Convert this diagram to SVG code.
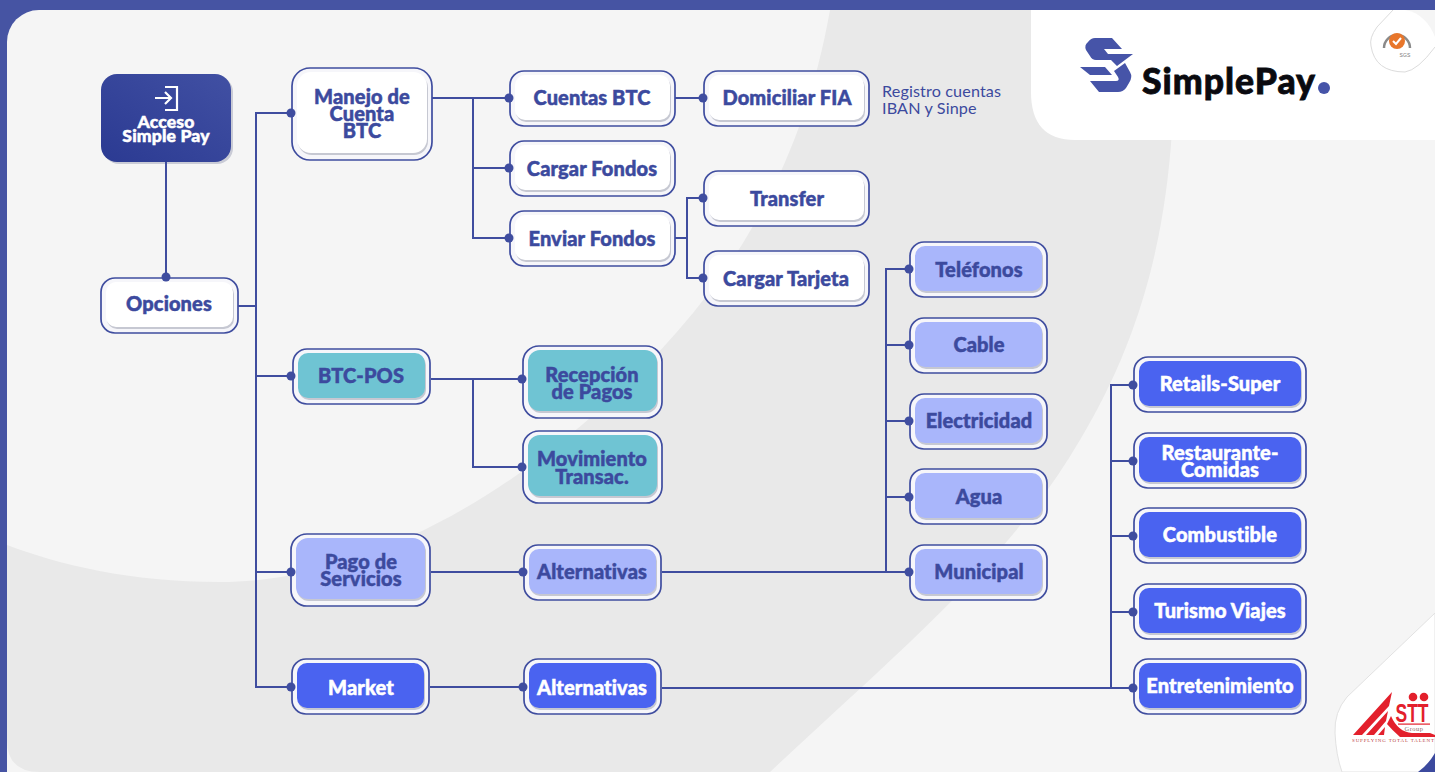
<svg xmlns="http://www.w3.org/2000/svg" width="1435" height="772" viewBox="0 0 1435 772">
<style>
text{font-family:"Lato","Noto Sans",sans-serif;font-weight:900;text-anchor:middle;font-size:20px;letter-spacing:.12px;fill:#3c4a9e;stroke:#3c4a9e;stroke-width:.5px}
text:not(.plain){transform:translateY(.8px)}
.o{fill:#f6f6fa;stroke:#3f4d9f;stroke-width:1.7}
.i{stroke:none}
.w{fill:#fff}.t{fill:#6fc4d3}.l{fill:#a9b6fb}.b{fill:#4a63f0}
.s{fill:#c6c8d2}
text.wt{fill:#fff;stroke:#fff}
.c{fill:none;stroke:#3f4d9f;stroke-width:2}
.d{fill:#3f4d9f}
text.plain{stroke:none}
</style>
<defs>
<linearGradient id="ga" x1="0" y1="1" x2="1" y2="0"><stop offset="0" stop-color="#2b3a92"/><stop offset="1" stop-color="#4150a3"/></linearGradient>
</defs>
<rect width="1435" height="772" fill="#4654a3"/>
<rect x="7" y="10" width="1470" height="800" rx="32" fill="#f5f5f5"/>
<path d="M830 10C800 180 720 300 610 400C480 520 340 582 220 582C130 582 60 565 7 545V740Q7 772 40 772H770C900 650 1010 560 1080 440C1140 340 1165 240 1172 130L1100 10Z" fill="#e9e9e9"/>
<g id="logo-panel">
<path d="M1031 10H1405C1420 12 1430 24 1435 37V140H1075Q1031 140 1031 92Z" fill="#fff"/>
<path d="M1095 38H1112L1122 49H1104L1108 54H1133L1117 66L1111 60H1096Q1092 60 1090 56L1086 50Q1084 45 1088 42Q1091 38 1095 38Z" fill="#4654a8"/>
<path d="M1080 67H1105L1112 75H1090ZM1090 81H1116Q1120 81 1118 77L1114 71L1125 63L1130 72Q1133 77 1129 83L1126 88Q1123 92 1118 92H1099Z" fill="#4654a8"/>
<text class="plain" x="1229" y="94" style="font-family:'Lato';font-size:35.5px;font-weight:900;fill:#0a0a0f;stroke:#0a0a0f;stroke-width:.8px;letter-spacing:1px">SimplePay</text>
<circle cx="1324" cy="88" r="6" fill="#4654a8"/>
</g>
<g id="sgs-badge">
<path d="M1393 10L1377 27Q1369 38 1371 46Q1375 72 1405 72Q1418 70 1435 47" fill="#fff" stroke="#dcdcdc"/>
<path d="M1384 48A13 13 0 1 1 1410 48" fill="none" stroke="#8a8a8a" stroke-width="2.5"/>
<circle cx="1397" cy="41" r="8" fill="#e8762b"/>
<path d="M1393 41l3 3 5-6" fill="none" stroke="#fff" stroke-width="2"/>
<text class="plain" x="1405" y="57" style="font-family:'Liberation Sans';font-size:5px;font-weight:400;fill:#777">SGS</text>
</g>
<g id="sti-panel">
<path d="M1435 613L1347 697Q1334 712 1335 733Q1336 755 1342 772H1435Z" fill="#fff" stroke="#e2e2e2"/>
<path d="M1418 772Q1428 765 1435 753V772Z" fill="#3c4a9e"/>
<path d="M1353 735L1392 692L1389 706L1362 735ZM1366 735L1388 711L1386 721L1374 735ZM1378 735L1385 727L1384 735Z" fill="#e3202c"/>
<path d="M1391 716Q1398 732 1412 733H1430L1435 735V737H1400Q1392 730 1387 724Z" fill="#e3202c"/>
<rect x="1398" y="723.5" width="32" height="1.2" fill="#e3202c"/>
<text class="plain" x="1412" y="722" textLength="33" lengthAdjust="spacingAndGlyphs" style="font-family:'Liberation Sans';font-size:26px;font-weight:700;letter-spacing:0;fill:#e3202c">STT</text>
<circle cx="1413" cy="697" r="4.3" fill="#e3202c"/><circle cx="1424" cy="697" r="4.3" fill="#e3202c"/>
<text class="plain" x="1414" y="731" style="font-family:'Liberation Serif';font-size:6.5px;font-weight:400;fill:#8c6b6b;letter-spacing:.5px">Group</text>
<text class="plain" x="1393" y="742" textLength="82" style="font-family:'Liberation Serif';font-size:5px;font-weight:400;letter-spacing:0;fill:#b44">SUPPLYING TOTAL TALENT</text>
</g>
<g id="acceso">
<rect x="103" y="76" width="130" height="88" rx="16" fill="#c9cbd6"/>
<rect x="101" y="74" width="130" height="88" rx="16" fill="url(#ga)"/>
<path d="M165 87H177V110H165M155 98H171M165 92L171 98L165 104" fill="none" stroke="#fff" stroke-width="2.2"/>
<text class="wt" x="166" y="127" style="font-size:17.6px">Acceso<tspan x="166" dy="14.5">Simple Pay</tspan></text>
</g>
<g id="opciones"><rect class="o" x="101" y="278" width="137" height="55" rx="14"/><rect class="s" x="107" y="284" width="127" height="45" rx="10"/><rect class="i w" x="106" y="282" width="127" height="45" rx="10"/><text x="169" y="310">Opciones</text></g>
<g id="manejo"><rect class="o" x="292" y="68" width="140" height="92" rx="18"/><rect class="s" x="298" y="74" width="130" height="81" rx="14"/><rect class="i w" x="297" y="72" width="130" height="81" rx="14"/><text x="362" y="103">Manejo de<tspan x="362" dy="17.5">Cuenta</tspan><tspan x="362" dy="17">BTC</tspan></text></g>
<g id="cuentas"><rect class="o" x="510" y="71" width="165" height="55" rx="14"/><rect class="s" x="516" y="77" width="155" height="45" rx="10"/><rect class="i w" x="515" y="75" width="155" height="45" rx="10"/><text x="592" y="104">Cuentas BTC</text></g>
<g id="cargar-fondos"><rect class="o" x="510" y="141" width="165" height="55" rx="14"/><rect class="s" x="516" y="147" width="155" height="45" rx="10"/><rect class="i w" x="515" y="145" width="155" height="45" rx="10"/><text x="592" y="175">Cargar Fondos</text></g>
<g id="enviar-fondos"><rect class="o" x="510" y="211" width="165" height="55" rx="14"/><rect class="s" x="516" y="217" width="155" height="45" rx="10"/><rect class="i w" x="515" y="215" width="155" height="45" rx="10"/><text x="592" y="245">Enviar Fondos</text></g>
<g id="domiciliar"><rect class="o" x="704" y="71" width="165" height="55" rx="14"/><rect class="s" x="710" y="77" width="155" height="45" rx="10"/><rect class="i w" x="709" y="75" width="155" height="45" rx="10"/><text x="787" y="104">Domiciliar FIA</text></g>
<text class="plain" x="882" y="97" style="text-anchor:start;font-weight:400;font-size:16.2px">Registro cuentas<tspan x="882" dy="17">IBAN y Sinpe</tspan></text>
<g id="transfer"><rect class="o" x="704" y="171" width="165" height="55" rx="14"/><rect class="s" x="710" y="177" width="155" height="45" rx="10"/><rect class="i w" x="709" y="175" width="155" height="45" rx="10"/><text x="787" y="205">Transfer</text></g>
<g id="cargar-tarjeta"><rect class="o" x="704" y="251" width="165" height="55" rx="14"/><rect class="s" x="710" y="257" width="155" height="45" rx="10"/><rect class="i w" x="709" y="255" width="155" height="45" rx="10"/><text x="786" y="285">Cargar Tarjeta</text></g>
<g id="btc-pos"><rect class="o" x="293" y="349" width="137" height="55" rx="14"/><rect class="s" x="299" y="355" width="127" height="45" rx="10"/><rect class="i t" x="298" y="353" width="127" height="45" rx="10"/><text x="361" y="382">BTC-POS</text></g>
<g id="recepcion"><rect class="o" x="523" y="346" width="139" height="72" rx="16"/><rect class="s" x="529" y="352" width="129" height="61" rx="12"/><rect class="i t" x="528" y="350" width="129" height="61" rx="12"/><text x="592" y="381">Recepción<tspan x="592" dy="17.5">de Pagos</tspan></text></g>
<g id="movimiento"><rect class="o" x="523" y="431" width="139" height="72" rx="16"/><rect class="s" x="529" y="437" width="129" height="61" rx="12"/><rect class="i t" x="528" y="435" width="129" height="61" rx="12"/><text x="592" y="465">Movimiento<tspan x="592" dy="18">Transac.</tspan></text></g>
<g id="pago"><rect class="o" x="291" y="534" width="139" height="72" rx="16"/><rect class="s" x="297" y="540" width="129" height="61" rx="12"/><rect class="i l" x="296" y="538" width="129" height="61" rx="12"/><text x="361" y="568">Pago de<tspan x="361" dy="17.5">Servicios</tspan></text></g>
<g id="alt1"><rect class="o" x="524" y="545" width="137" height="55" rx="14"/><rect class="s" x="530" y="551" width="127" height="45" rx="10"/><rect class="i l" x="529" y="549" width="127" height="45" rx="10"/><text x="592" y="578">Alternativas</text></g>
<g id="market"><rect class="o" x="292" y="659" width="137" height="55" rx="14"/><rect class="s" x="298" y="665" width="127" height="45" rx="10"/><rect class="i b" x="297" y="663" width="127" height="45" rx="10"/><text class="wt" x="361" y="694">Market</text></g>
<g id="alt2"><rect class="o" x="524" y="659" width="137" height="55" rx="14"/><rect class="s" x="530" y="665" width="127" height="45" rx="10"/><rect class="i b" x="529" y="663" width="127" height="45" rx="10"/><text class="wt" x="592" y="694">Alternativas</text></g>
<g id="telefonos"><rect class="o" x="910" y="242" width="137" height="55" rx="14"/><rect class="s" x="916" y="248" width="127" height="45" rx="10"/><rect class="i l" x="915" y="246" width="127" height="45" rx="10"/><text x="979" y="276">Teléfonos</text></g>
<g id="cable"><rect class="o" x="910" y="318" width="137" height="55" rx="14"/><rect class="s" x="916" y="324" width="127" height="45" rx="10"/><rect class="i l" x="915" y="322" width="127" height="45" rx="10"/><text x="979" y="351">Cable</text></g>
<g id="electricidad"><rect class="o" x="910" y="394" width="137" height="55" rx="14"/><rect class="s" x="916" y="400" width="127" height="45" rx="10"/><rect class="i l" x="915" y="398" width="127" height="45" rx="10"/><text x="979" y="427">Electricidad</text></g>
<g id="agua"><rect class="o" x="910" y="469" width="137" height="55" rx="14"/><rect class="s" x="916" y="475" width="127" height="45" rx="10"/><rect class="i l" x="915" y="473" width="127" height="45" rx="10"/><text x="979" y="503">Agua</text></g>
<g id="municipal"><rect class="o" x="910" y="545" width="137" height="55" rx="14"/><rect class="s" x="916" y="551" width="127" height="45" rx="10"/><rect class="i l" x="915" y="549" width="127" height="45" rx="10"/><text x="979" y="578">Municipal</text></g>
<g id="retails"><rect class="o" x="1134" y="357" width="172" height="55" rx="14"/><rect class="s" x="1140" y="363" width="162" height="45" rx="10"/><rect class="i b" x="1139" y="361" width="162" height="45" rx="10"/><text class="wt" x="1220" y="390">Retails-Super</text></g>
<g id="restaurante"><rect class="o" x="1134" y="433" width="172" height="55" rx="14"/><rect class="s" x="1140" y="439" width="162" height="45" rx="10"/><rect class="i b" x="1139" y="437" width="162" height="45" rx="10"/><text class="wt" x="1220" y="459">Restaurante-<tspan x="1220" dy="17">Comidas</tspan></text></g>
<g id="combustible"><rect class="o" x="1134" y="508" width="172" height="55" rx="14"/><rect class="s" x="1140" y="514" width="162" height="45" rx="10"/><rect class="i b" x="1139" y="512" width="162" height="45" rx="10"/><text class="wt" x="1220" y="541">Combustible</text></g>
<g id="turismo"><rect class="o" x="1134" y="584" width="172" height="55" rx="14"/><rect class="s" x="1140" y="590" width="162" height="45" rx="10"/><rect class="i b" x="1139" y="588" width="162" height="45" rx="10"/><text class="wt" x="1220" y="617">Turismo Viajes</text></g>
<g id="entretenimiento"><rect class="o" x="1134" y="659" width="172" height="55" rx="14"/><rect class="s" x="1140" y="665" width="162" height="45" rx="10"/><rect class="i b" x="1139" y="663" width="162" height="45" rx="10"/><text class="wt" x="1220" y="692">Entretenimiento</text></g>
<g id="connectors">
<path class="c" d="M166 162V277M238 306H256M290 113H256V687H291M256 376H292M256 572H291"/>
<path class="c" d="M432 98H509M473 98V238H509M473 168H509M675 98H703M675 238H687V198H703M687 238V278H703"/>
<path class="c" d="M431 379H522M473 379V467H522"/>
<path class="c" d="M431 572H523M662 572H909M886 572V269H909M886 345H909M886 421H909M886 497H909"/>
<path class="c" d="M430 687H523M662 688H1133M1111 688V385H1133M1111 461H1133M1111 536H1133M1111 612H1133"/>
<g class="d">
<circle cx="166" cy="277" r="4.5"/><circle cx="291" cy="113" r="4.5"/><circle cx="291" cy="376" r="4.5"/><circle cx="291" cy="572" r="4.5"/><circle cx="291" cy="687" r="4.5"/>
<circle cx="509" cy="98" r="4.5"/><circle cx="509" cy="168" r="4.5"/><circle cx="509" cy="238" r="4.5"/>
<circle cx="703" cy="98" r="4.5"/><circle cx="703" cy="198" r="4.5"/><circle cx="703" cy="278" r="4.5"/>
<circle cx="522" cy="379" r="4.5"/><circle cx="522" cy="467" r="4.5"/><circle cx="523" cy="572" r="4.5"/><circle cx="523" cy="687" r="4.5"/>
<circle cx="909" cy="269" r="4.5"/><circle cx="909" cy="345" r="4.5"/><circle cx="909" cy="421" r="4.5"/><circle cx="909" cy="497" r="4.5"/><circle cx="909" cy="572" r="4.5"/>
<circle cx="1133" cy="385" r="4.5"/><circle cx="1133" cy="461" r="4.5"/><circle cx="1133" cy="536" r="4.5"/><circle cx="1133" cy="612" r="4.5"/><circle cx="1133" cy="688" r="4.5"/>
</g>
</g>
</svg>
